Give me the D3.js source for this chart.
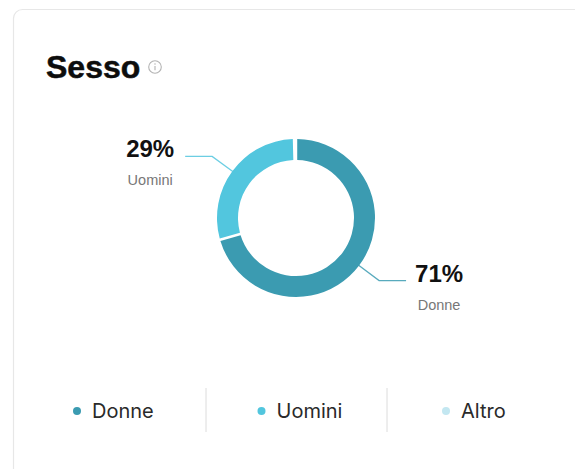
<!DOCTYPE html>
<html>
<head>
<meta charset="utf-8">
<script src="https://cdn.jsdelivr.net/npm/d3@7"></script>
<style>
  html, body { margin: 0; padding: 0; background: #ffffff; }
  svg { display: block; }
</style>
</head>
<body>
<svg id="chart" width="575" height="469"></svg>
<script>
// Gender split shown in the card
const categories = ["Donne", "Uomini", "Altro"];
const values = [71, 29, 0];
const colors = ["#3b9bb1", "#52c6de", "#c3e7f1"];
const title = "Sesso";

const svg = d3.select("#chart");
const font = "'Liberation Sans', Arial, Helvetica, sans-serif";

// Card outline (continues beyond the right and bottom edges)
svg.append("rect")
  .attr("x", 13.5).attr("y", 9.5)
  .attr("width", 620).attr("height", 520)
  .attr("rx", 9)
  .attr("fill", "#fff")
  .attr("stroke", "#e7e7e7")
  .attr("stroke-width", 1.2);

// Title and info icon
svg.append("text")
  .attr("x", 46).attr("y", 78)
  .attr("font-family", font)
  .attr("font-weight", "bold")
  .attr("font-size", 32)
  .attr("fill", "#0d0d0d")
  .attr("stroke", "#0d0d0d")
  .attr("stroke-width", 0.5)
  .text(title);

const info = svg.append("g").attr("transform", "translate(155,67)");
info.append("circle").attr("r", 6.3).attr("fill", "none").attr("stroke", "#b3b3b3").attr("stroke-width", 1.1);
info.append("line").attr("x1", 0).attr("x2", 0).attr("y1", -1).attr("y2", 3.2).attr("stroke", "#b3b3b3").attr("stroke-width", 1.1);
info.append("circle").attr("cx", 0).attr("cy", -3).attr("r", 0.75).attr("fill", "#b3b3b3");

// Donut
const cx = 296, cy = 218;
const outerR = 79, innerR = 58;

const data = categories.map((c, i) => ({ name: c, value: values[i], color: colors[i] }));

const pie = d3.pie()
  .sort(null)
  .value(d => d.value)
  .padAngle(0.025);

const arcs = pie(data).filter(a => a.data.value > 0);

const arc = d3.arc().innerRadius(innerR).outerRadius(outerR);

const g = svg.append("g").attr("transform", `translate(${cx},${cy})`);
g.selectAll("path.slice")
  .data(arcs)
  .join("path")
  .attr("class", "slice")
  .attr("d", arc)
  .attr("fill", d => d.data.color);

// Leader lines and value labels
arcs.forEach(a => {
  const mid = (a.startAngle + a.endAngle) / 2;
  const right = Math.sin(mid) > 0;
  const p0 = [Math.sin(mid) * (outerR - 1), -Math.cos(mid) * (outerR - 1)];
  const bendR = outerR + 25;
  const p1 = [Math.sin(mid) * bendR, -Math.cos(mid) * bendR];
  const p2 = [p1[0] + (right ? 27 : -27), p1[1]];

  g.append("polyline")
    .attr("points", [p0, p1, p2].map(p => p.join(",")).join(" "))
    .attr("fill", "none")
    .attr("stroke", a.data.color)
    .attr("stroke-width", 1.3)
    .attr("opacity", 0.85);

  const tx = p2[0] + (right ? 33 : -35);
  g.append("text")
    .attr("x", tx).attr("y", p2[1] + 1)
    .attr("text-anchor", "middle")
    .attr("font-family", font)
    .attr("font-weight", "bold")
    .attr("font-size", 24)
    .attr("fill", "#111")
    .text(d3.format("d")(a.data.value) + "%");

  g.append("text")
    .attr("x", tx).attr("y", p2[1] + 29)
    .attr("text-anchor", "middle")
    .attr("font-family", font)
    .attr("font-size", 14.5)
    .attr("fill", "#777")
    .text(a.data.name);
});

// Legend
const legendX = d3.scalePoint()
  .domain(categories)
  .range([77, 446]);

const legend = svg.append("g");
categories.forEach((c, i) => {
  const x = legendX(c);
  legend.append("circle")
    .attr("cx", x).attr("cy", 411)
    .attr("r", 4)
    .attr("fill", colors[i]);
  legend.append("text")
    .attr("x", x + 15).attr("y", 418)
    .attr("font-family", "Inter, 'Liberation Sans', Arial, sans-serif")
    .attr("font-size", 20)
    .attr("fill", "#2a2a2a")
    .text(c);
});

// Separators between legend entries
[206, 387].forEach(x => {
  legend.append("line")
    .attr("x1", x).attr("x2", x)
    .attr("y1", 388).attr("y2", 432)
    .attr("stroke", "#dcdcdc")
    .attr("stroke-width", 1);
});
</script>
</body>
</html>
